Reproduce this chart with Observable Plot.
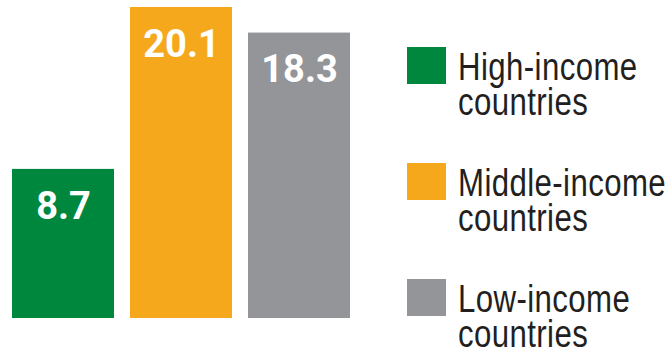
<!DOCTYPE html>
<html>
<head>
<meta charset="utf-8">
<script src="https://cdn.jsdelivr.net/npm/d3@7"></script>
<script src="https://cdn.jsdelivr.net/npm/@observablehq/plot@0.6"></script>
<style>
  html, body { margin: 0; padding: 0; background: #fff; }
  #wrap { position: relative; width: 668px; height: 355px; overflow: hidden; }
  #chart { position: absolute; left: 0; top: 0; }
  #legend { position: absolute; left: 407px; top: 47px; }
  .item { display: flex; align-items: flex-start; height: 116px; }
  .sw { width: 39px; height: 37px; flex: none; }
  .lab { margin-left: 12px; margin-top: 2px; font-family: "Liberation Sans", Arial, sans-serif; font-size: 39px; line-height: 35px; color: #231f20; white-space: nowrap; transform: scaleX(0.8); transform-origin: 0 0; letter-spacing: 0.5px; }
</style>
</head>
<body>
<div id="wrap">
  <div id="chart"></div>
  <div id="legend"></div>
</div>
<script>
const categories = ["High-income countries", "Middle-income countries", "Low-income countries"];
const values = [8.7, 20.1, 18.3];
const colors = ["#00873e", "#f6a81d", "#939598"];
const baseline = -1.8;

const data = categories.map((c, i) => ({category: c, value: values[i], base: baseline}));

const chart = Plot.plot({
  width: 351,
  height: 355,
  marginLeft: 11,
  marginRight: 0,
  marginTop: 7,
  marginBottom: 37,
  x: {domain: categories, paddingInner: 0.135, paddingOuter: 0, axis: null},
  y: {domain: [baseline, d3.max(values)], axis: null},
  color: {domain: categories, range: colors},
  marks: [
    Plot.barY(data, {x: "category", y1: "base", y2: "value", fill: "category"}),
    Plot.text(data, {
      x: "category", y: "value", text: d => d.value.toFixed(1),
      dy: 37, fill: "white", fontSize: 38, fontWeight: "bold",
      fontFamily: "Roboto, sans-serif", lineAnchor: "middle"
    })
  ]
});
document.getElementById("chart").appendChild(chart);

const legend = document.getElementById("legend");
categories.forEach((c, i) => {
  const item = document.createElement("div");
  item.className = "item";
  const sw = document.createElement("div");
  sw.className = "sw";
  sw.style.background = colors[i];
  const lab = document.createElement("div");
  lab.className = "lab";
  c.split(" ").forEach((w, j) => {
    if (j) lab.appendChild(document.createElement("br"));
    lab.appendChild(document.createTextNode(w));
  });
  item.appendChild(sw);
  item.appendChild(lab);
  legend.appendChild(item);
});
</script>
</body>
</html>
